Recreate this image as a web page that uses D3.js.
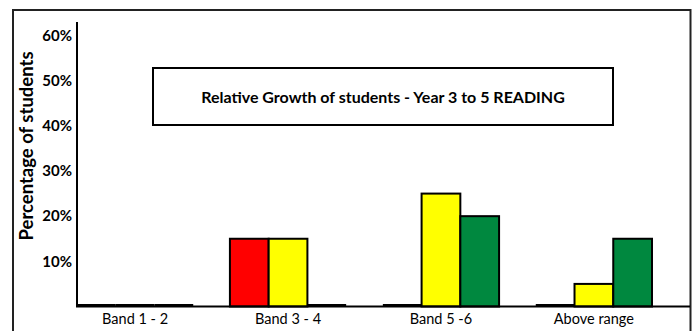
<!DOCTYPE html>
<html>
<head>
<meta charset="utf-8">
<script src="https://cdn.jsdelivr.net/npm/d3@7"></script>
<style>
  body { margin: 0; background: #fff; }
  svg { display: block; font-family: Lato, "Open Sans", sans-serif; }
</style>
</head>
<body>
<div id="chart"></div>
<script>
// data
var categories = ["Band 1 - 2", "Band 3 - 4", "Band 5 -6", "Above range"];
var seriesNames = ["Below", "Expected", "Above"];
var red    = [0, 15, 0, 0];
var yellow = [0, 15, 25, 5];
var green  = [0, 0, 20, 15];
var yTicks = [0.1, 0.2, 0.3, 0.4, 0.5, 0.6];
var colors = ["#ff0000", "#ffff00", "#00883f"];
var title = "Relative Growth of students - Year 3 to 5 READING";

var width = 697, height = 331;

var svg = d3.select("#chart").append("svg")
  .attr("width", width)
  .attr("height", height);

// outer frame
svg.append("rect")
  .attr("x", 13).attr("y", 10)
  .attr("width", 677.5).attr("height", 340)
  .attr("fill", "none")
  .attr("stroke", "#222")
  .attr("stroke-width", 2);

var x0 = d3.scaleBand()
  .domain(categories)
  .range([77, 652])
  .paddingInner(0.24)
  .paddingOuter(0);

var x1 = d3.scaleBand()
  .domain(seriesNames)
  .range([0, x0.bandwidth()]);

var y = d3.scaleLinear()
  .domain([0, 0.6])
  .range([306.5, 35.5]);

// bars
var rows = categories.map(function (c, i) {
  return { cat: c, vals: [red[i], yellow[i], green[i]] };
});

var groups = svg.selectAll("g.grp")
  .data(rows)
  .enter().append("g")
  .attr("class", "grp")
  .attr("transform", function (d) { return "translate(" + x0(d.cat) + ",0)"; });

groups.selectAll("rect")
  .data(function (d) {
    return d.vals.map(function (v, j) { return { key: seriesNames[j], v: v / 100, j: j }; });
  })
  .enter().append("rect")
  .attr("x", function (d) { return x1(d.key); })
  .attr("y", function (d) { return d.v > 0 ? y(d.v) : y(0) - 2.5; })
  .attr("width", x1.bandwidth())
  .attr("height", function (d) { return d.v > 0 ? y(0) - y(d.v) : 2.5; })
  .attr("fill", function (d) { return d.v > 0 ? colors[d.j] : "#000"; })
  .attr("stroke", "#000")
  .attr("stroke-width", function (d) { return d.v > 0 ? 2 : 0; });

// y axis
var yAxis = d3.axisLeft(y)
  .tickValues(yTicks)
  .tickFormat(d3.format(".0%"))
  .tickSize(0)
  .tickPadding(5);

var gy = svg.append("g")
  .attr("transform", "translate(77,0)")
  .call(yAxis);
gy.select(".domain").remove();
gy.selectAll("text")
  .attr("font-family", "Lato, sans-serif")
  .attr("font-size", 15)
  .attr("font-weight", "bold")
  .attr("fill", "#000");

svg.append("line")
  .attr("x1", 77).attr("x2", 77)
  .attr("y1", 22).attr("y2", y(0))
  .attr("stroke", "#000").attr("stroke-width", 2);

// x axis
svg.append("line")
  .attr("x1", 76).attr("x2", 690)
  .attr("y1", y(0)).attr("y2", y(0))
  .attr("stroke", "#000").attr("stroke-width", 2);

var xAxis = d3.axisBottom(x0).tickSize(0).tickPadding(7);
var gx = svg.append("g")
  .attr("transform", "translate(0," + y(0) + ")")
  .call(xAxis);
gx.select(".domain").remove();
gx.selectAll("text")
  .attr("font-family", "Lato, sans-serif")
  .attr("font-size", 14.5)
  .attr("fill", "#000");

// y label
svg.append("text")
  .attr("transform", "translate(33,146) rotate(-90)")
  .attr("text-anchor", "middle")
  .attr("font-size", 18.5)
  .attr("font-weight", "bold")
  .attr("fill", "#000")
  .text("Percentage of students");

// title box
svg.append("rect")
  .attr("x", 153).attr("y", 68)
  .attr("width", 460).attr("height", 57)
  .attr("fill", "#fff")
  .attr("stroke", "#000")
  .attr("stroke-width", 2);

svg.append("text")
  .attr("x", 383).attr("y", 103)
  .attr("text-anchor", "middle")
  .attr("font-size", 16)
  .attr("font-weight", "bold")
  .attr("fill", "#000")
  .text(title);
</script>
</body>
</html>
